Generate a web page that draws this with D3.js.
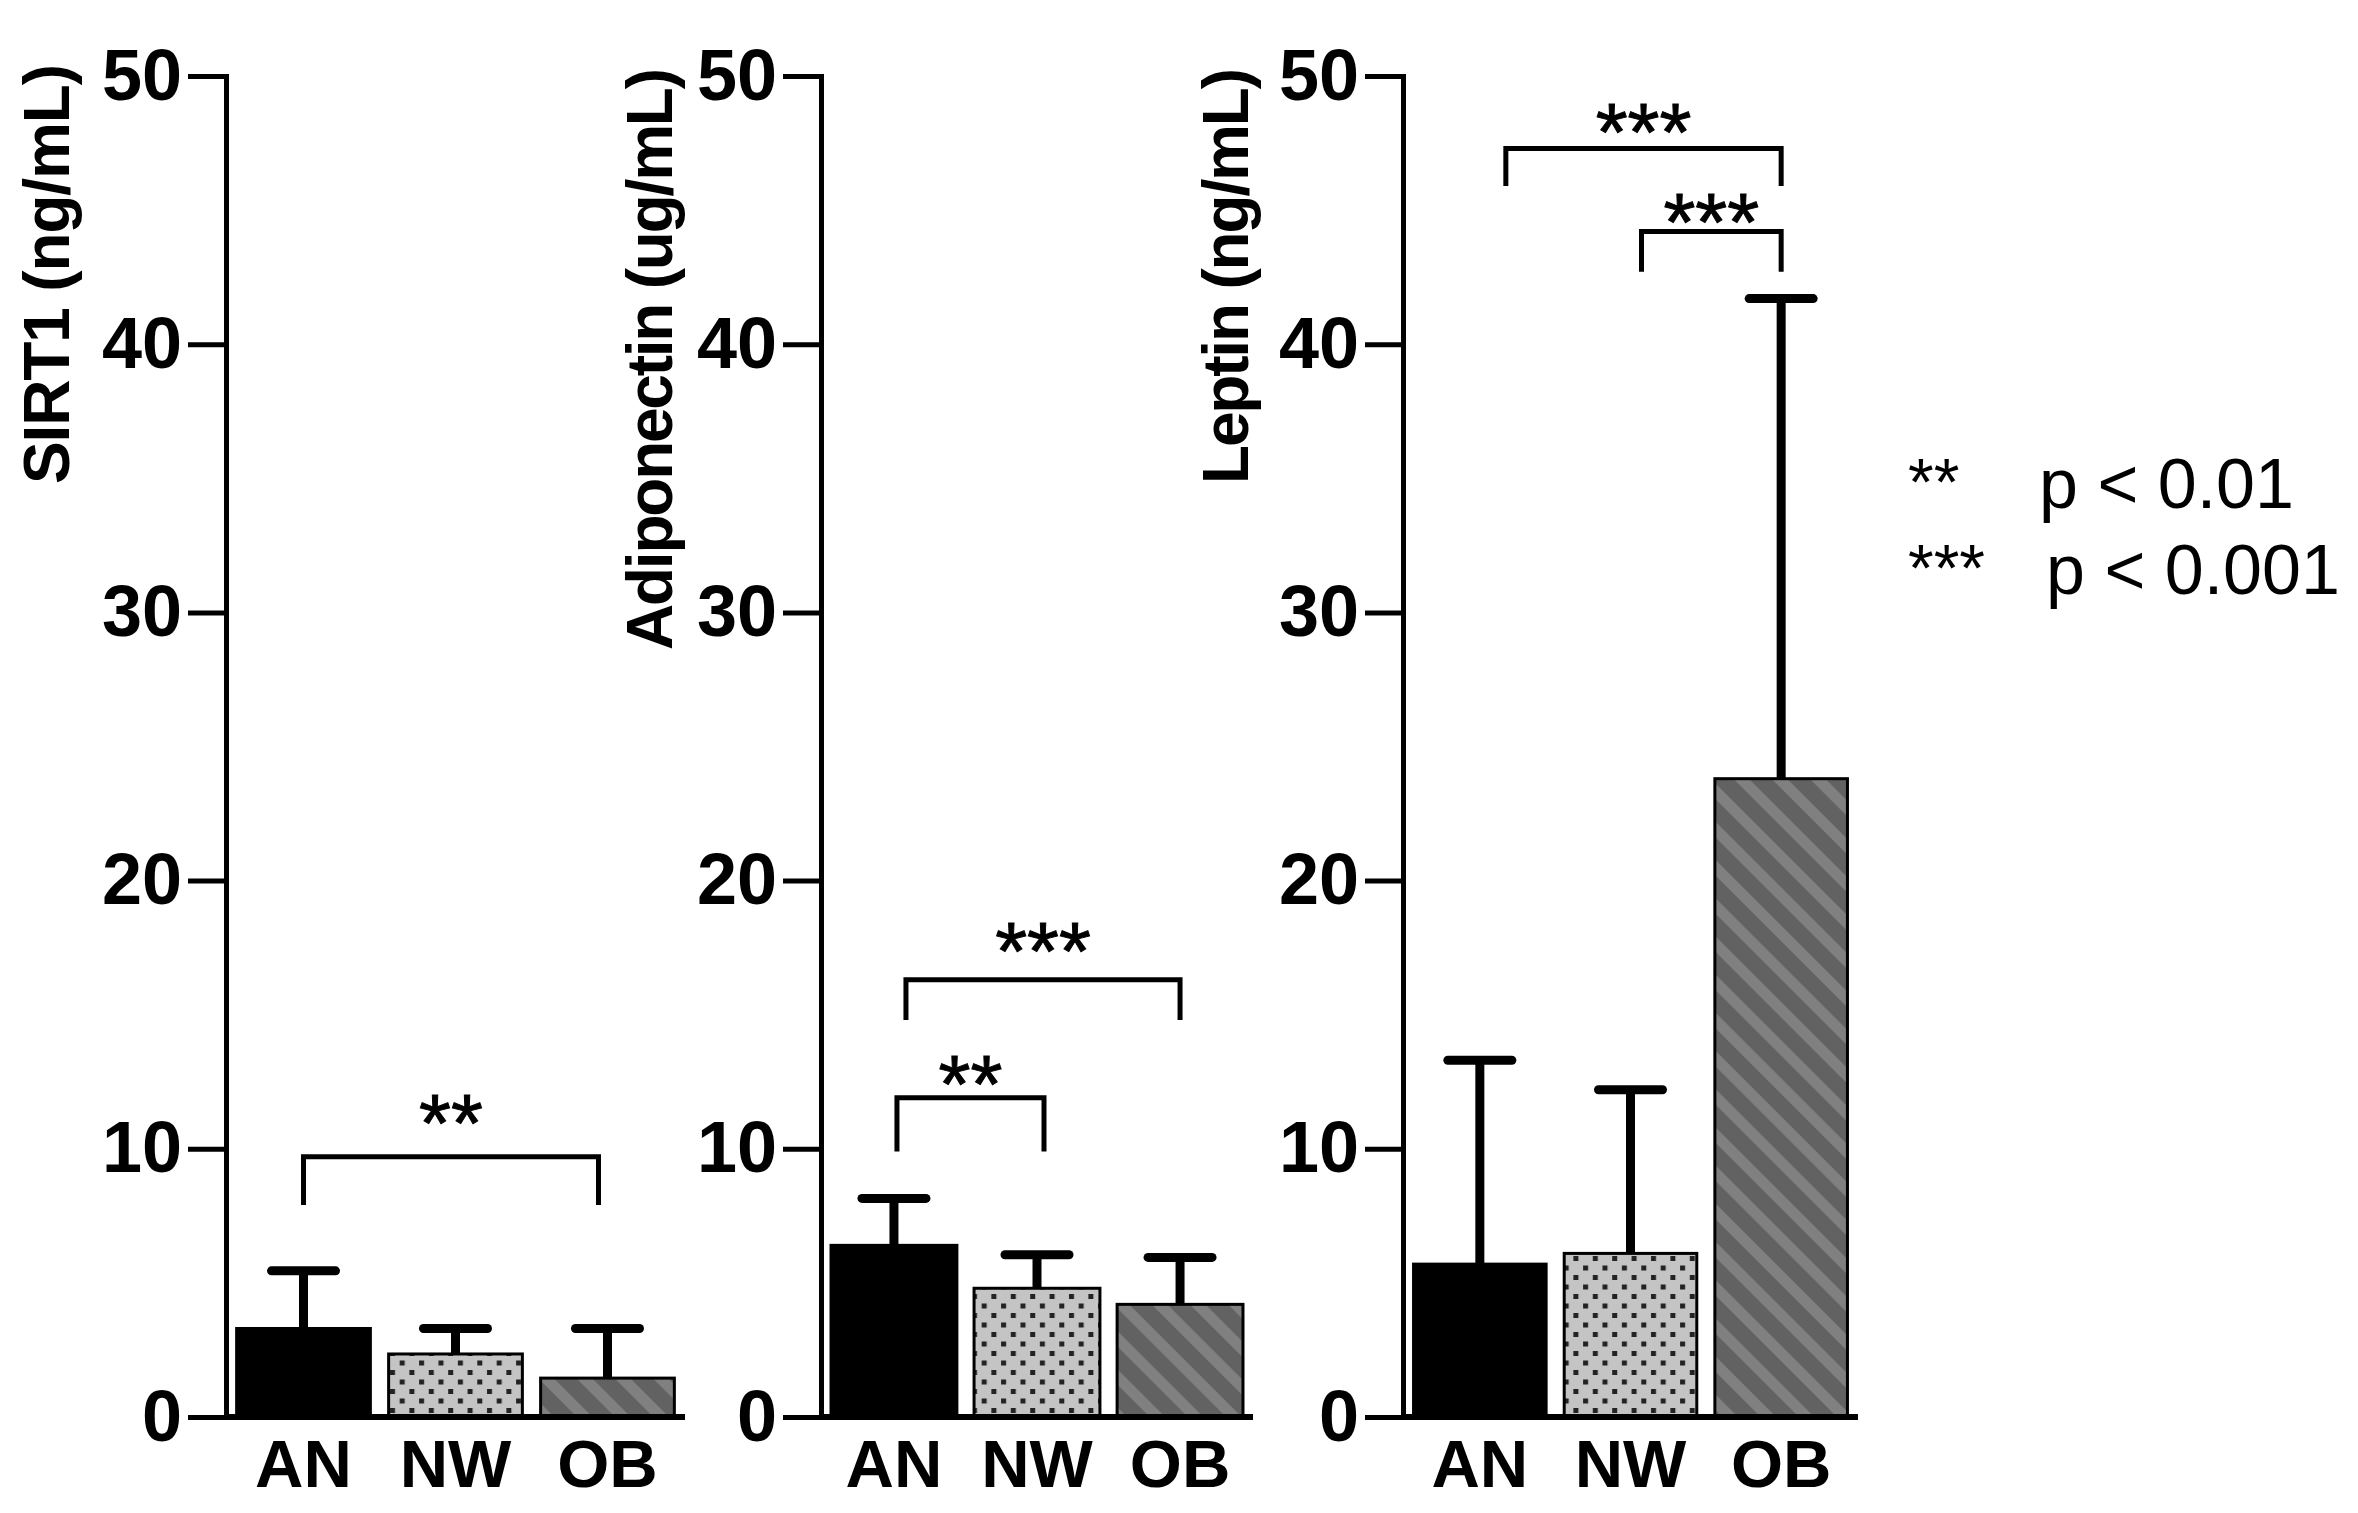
<!DOCTYPE html>
<html>
<head>
<meta charset="utf-8">
<script src="https://cdn.jsdelivr.net/npm/d3@7"></script>
<style>
body { margin: 0; background: #fff; }
text { font-family: "Liberation Sans", Arial, Helvetica, sans-serif; }
</style>
</head>
<body>
<script>
// data
const groups = ["AN", "NW", "OB"];
const yTicks = [0, 10, 20, 30, 40, 50];
const titles = ["SIRT1 (ng/mL)", "Adiponectin (ug/mL)", "Leptin (ng/mL)"];

const sirt1Mean = [3.3, 2.35, 1.45];
const sirt1Sd = [2.15, 0.95, 1.85];
const adipoMean = [6.4, 4.8, 4.2];
const adipoSd = [1.75, 1.25, 1.75];
const leptinMean = [5.7, 6.1, 23.8];
const leptinSd = [7.6, 6.1, 17.9];

// significance brackets: groups compared, bar height and foot height (data units)
const sirt1Sig = [{a: "AN", b: "OB", y: 9.7, foot: 7.9, label: "**"}];
const adipoSig = [
  {a: "AN", b: "NW", y: 11.9, foot: 9.9, label: "**"},
  {a: "AN", b: "OB", y: 16.3, foot: 14.8, label: "***"}
];
const leptinSig = [
  {a: "AN", b: "OB", y: 47.3, foot: 45.9, label: "***"},
  {a: "NW", b: "OB", y: 44.2, foot: 42.7, label: "***"}
];

const legendStars = ["**", "***"];
const legendText = ["p < 0.01", "p < 0.001"];

// layout
const W = 2358, H = 1513;
const panels = [
  {mean: sirt1Mean, sd: sirt1Sd, sig: sirt1Sig, x0: 226, x1: 685,
   tx: 69, ty: 274, tlen: 420, gaps: [52], nudge: [[0, -9]]},
  {mean: adipoMean, sd: adipoSd, sig: adipoSig, x0: 821, x1: 1253,
   tx: 672, ty: 359, tlen: 582, gaps: [32, 47], nudge: [[3, 7], [12, 0]]},
  {mean: leptinMean, sd: leptinSd, sig: leptinSig, x0: 1403, x1: 1858,
   tx: 1248, ty: 276, tlen: 416, gaps: [34, 28], nudge: [[26, 0], [11, 0]]}
];
const fills = ["#000", "url(#dots)", "url(#stripes)"];

const svg = d3.select("body").append("svg")
  .attr("width", W).attr("height", H)
  .style("background", "#fff");

const defs = svg.append("defs");

const dots = defs.append("pattern")
  .attr("id", "dots")
  .attr("patternUnits", "userSpaceOnUse")
  .attr("width", 19.4).attr("height", 19);
dots.append("rect").attr("width", 19.4).attr("height", 19).attr("fill", "#c4c4c4");
dots.append("rect").attr("x", 2).attr("y", 2).attr("width", 5).attr("height", 5).attr("fill", "#222");
dots.append("rect").attr("x", 11.7).attr("y", 11.5).attr("width", 5).attr("height", 5).attr("fill", "#222");

const stripes = defs.append("pattern")
  .attr("id", "stripes")
  .attr("patternUnits", "userSpaceOnUse")
  .attr("width", 27).attr("height", 27)
  .attr("patternTransform", "rotate(-45)");
stripes.append("rect").attr("width", 27).attr("height", 27).attr("fill", "#626262");
stripes.append("rect").attr("width", 11).attr("height", 27).attr("fill", "#808080");

const y = d3.scaleLinear().domain([0, 50]).range([1417, 76]);

panels.forEach(function(p, pi) {
  const x = d3.scaleBand()
    .domain(groups)
    .range([p.x0, p.x1])
    .paddingInner(0.12)
    .paddingOuter(0.07);
  const cx = g => x(g) + x.bandwidth() / 2;

  const g = svg.append("g");

  // bars
  g.selectAll("rect.bar")
    .data(groups)
    .enter()
    .append("rect")
    .attr("class", "bar")
    .attr("x", d => x(d))
    .attr("y", (d, i) => y(p.mean[i]))
    .attr("width", x.bandwidth())
    .attr("height", (d, i) => y(0) - y(p.mean[i]))
    .attr("fill", (d, i) => fills[i])
    .attr("stroke", "#000")
    .attr("stroke-width", 3);

  // error bars (upper only)
  g.selectAll("line.stem")
    .data(groups)
    .enter()
    .append("line")
    .attr("x1", d => cx(d)).attr("x2", d => cx(d))
    .attr("y1", (d, i) => y(p.mean[i]))
    .attr("y2", (d, i) => y(p.mean[i] + p.sd[i]))
    .attr("stroke", "#000")
    .attr("stroke-width", 9);
  g.selectAll("line.cap")
    .data(groups)
    .enter()
    .append("line")
    .attr("x1", d => cx(d) - 32).attr("x2", d => cx(d) + 32)
    .attr("y1", (d, i) => y(p.mean[i] + p.sd[i]))
    .attr("y2", (d, i) => y(p.mean[i] + p.sd[i]))
    .attr("stroke", "#000")
    .attr("stroke-width", 9)
    .attr("stroke-linecap", "round");

  // x axis line
  g.append("line")
    .attr("x1", p.x0).attr("x2", p.x1)
    .attr("y1", y(0)).attr("y2", y(0))
    .attr("stroke", "#000").attr("stroke-width", 6);

  // y axis
  const ya = g.append("g")
    .attr("transform", "translate(" + p.x0 + ",0)")
    .call(d3.axisLeft(y).tickValues(yTicks).tickSize(38).tickPadding(6).tickSizeOuter(0));
  ya.select(".domain").attr("stroke-width", 5).attr("stroke-linecap", "square");
  ya.selectAll(".tick line").attr("stroke-width", 5);
  ya.selectAll(".tick text")
    .attr("font-size", 72)
    .attr("font-weight", "bold")
    .attr("font-family", "Liberation Sans, Arial, sans-serif")
    .attr("fill", "#000");

  // category labels
  const xa = g.append("g")
    .attr("transform", "translate(0," + y(0) + ")")
    .call(d3.axisBottom(x).tickSize(0).tickPadding(22));
  xa.select(".domain").remove();
  xa.selectAll(".tick text")
    .attr("font-size", 67)
    .attr("font-weight", "bold")
    .attr("font-family", "Liberation Sans, Arial, sans-serif")
    .attr("fill", "#000");

  // axis title
  g.append("text")
    .attr("transform", "translate(" + p.tx + "," + p.ty + ") rotate(-90)")
    .attr("text-anchor", "middle")
    .attr("font-size", 64)
    .attr("font-weight", "bold")
    .attr("textLength", p.tlen)
    .attr("lengthAdjust", "spacing")
    .text(titles[pi]);

  // significance brackets
  p.sig.forEach(function(s, si) {
    const xa0 = cx(s.a) + p.nudge[si][0], xb0 = cx(s.b) + p.nudge[si][1];
    g.append("path")
      .attr("d", "M" + xa0 + "," + y(s.foot) + "V" + y(s.y) + "H" + xb0 + "V" + y(s.foot))
      .attr("fill", "none")
      .attr("stroke", "#000")
      .attr("stroke-width", 5);
    g.append("text")
      .attr("x", (xa0 + xb0) / 2)
      .attr("y", y(s.y) - p.gaps[si] + 46)
      .attr("text-anchor", "middle")
      .attr("font-size", 82)
      .attr("stroke", "#000")
      .attr("stroke-width", 1)
      .text(s.label);
  });
});

// legend
const legBase = [508, 594];
legendStars.forEach(function(s, i) {
  svg.append("text")
    .attr("x", 1908).attr("y", legBase[i] - 3)
    .attr("font-size", 66)
    .text(s);
  svg.append("text")
    .attr("x", i == 0 ? 2039 : 2046).attr("y", legBase[i])
    .attr("font-size", 70)
    .text(legendText[i]);
});
</script>
</body>
</html>
